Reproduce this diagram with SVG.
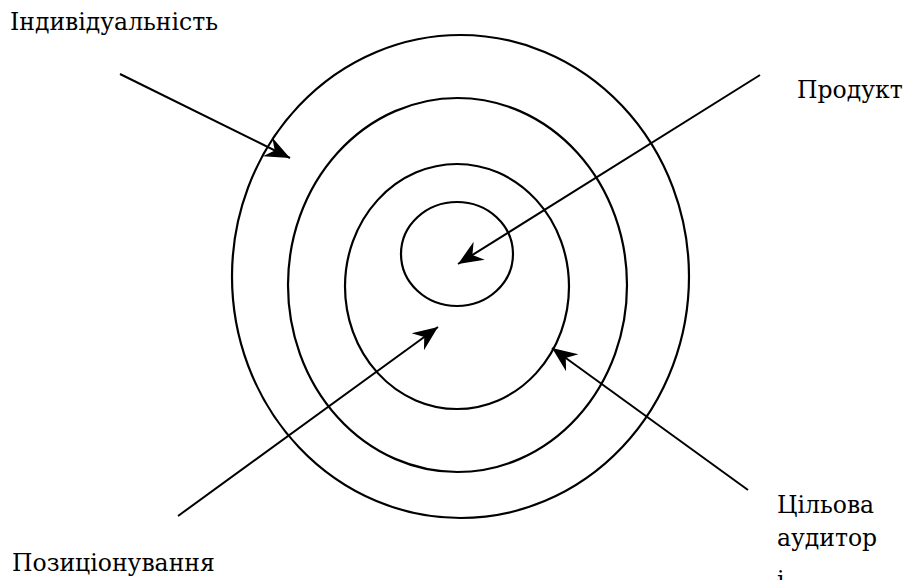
<svg xmlns="http://www.w3.org/2000/svg" width="904" height="580" viewBox="0 0 904 580">
<style>
.ring{fill:none;stroke:#000;stroke-width:2.2}
.conn{fill:none;stroke:#000;stroke-width:2;marker-end:url(#stealth)}
.lbl{font-family:'DejaVu Serif',serif;font-size:23.5px;fill:#000}
</style>
<defs>
<marker id="stealth" viewBox="-26 -11 28 22" refX="0" refY="0" markerWidth="28" markerHeight="22" markerUnits="userSpaceOnUse" orient="auto">
<path d="M0,0 L-25,-10.5 L-17,0 L-25,10.5 Z" fill="#000"/>
</marker>
</defs>
<rect width="904" height="580" fill="#fff"/>
<g id="ring-outer"><ellipse class="ring" cx="460.5" cy="276.5" rx="228.5" ry="241.5"/></g>
<g id="ring-2"><ellipse class="ring" cx="457.5" cy="285" rx="169.5" ry="187"/></g>
<g id="ring-3"><ellipse class="ring" cx="457" cy="286.5" rx="112" ry="122.5"/></g>
<g id="ring-inner"><ellipse class="ring" cx="457" cy="254" rx="56" ry="52"/></g>
<g id="connectors">
<line class="conn" x1="120" y1="74" x2="290" y2="158"/>
<line class="conn" x1="760" y1="75" x2="458" y2="264"/>
<line class="conn" x1="178" y1="516" x2="438" y2="327"/>
<line class="conn" x1="748" y1="490" x2="552" y2="348"/>
</g>
<g id="label-individualnist"><text class="lbl" x="10" y="30">Індивідуальність</text></g>
<g id="label-produkt"><text class="lbl" x="797" y="98">Продукт</text></g>
<g id="label-tsilova"><text class="lbl" x="777" y="513">Цільова</text><text class="lbl" x="777" y="546">аудитор</text><text class="lbl" x="777" y="588">і</text></g>
<g id="label-pozytsionuvannia"><text class="lbl" x="12" y="571">Позиціонування</text></g>
</svg>
